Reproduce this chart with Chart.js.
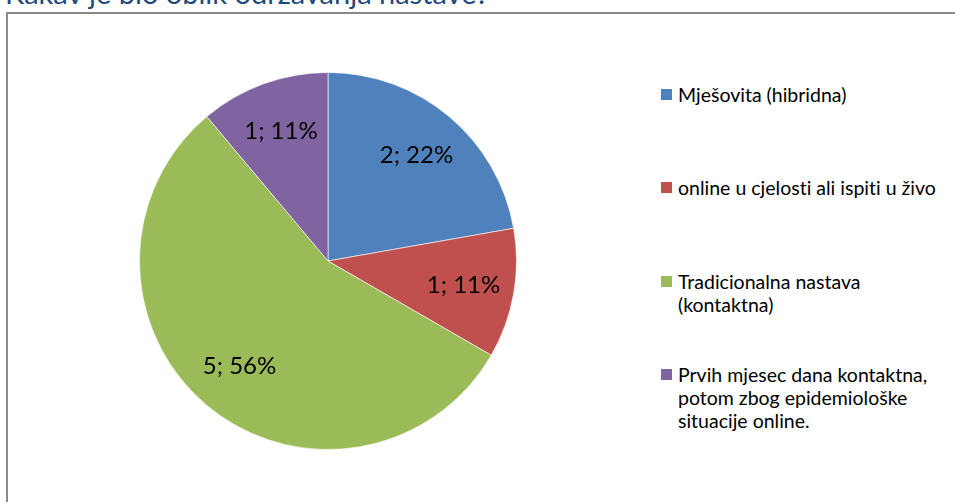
<!DOCTYPE html>
<html lang="hr">
  <head>
    <meta charset="UTF-8" />
    <title>Kakav je bio oblik održavanja nastave?</title>
    <style>
      html, body { margin: 0; padding: 0; background: #fff; }
      body { width: 955px; height: 502px; overflow: hidden; position: relative; font-family: Lato, "Open Sans", sans-serif; font-variant-ligatures: none; }
      .title { position: absolute; left: 5px; top: -27px; font-size: 29px; line-height: 40px; color: #1f497d; white-space: nowrap; }
      .frame { position: absolute; left: 6px; top: 12px; width: 1000px; height: 600px; border: 2px solid #8a8a8a; box-sizing: border-box; }
      .pie { position: absolute; left: 128px; top: 61px; width: 400px; height: 400px; }
      .legend { position: absolute; left: 661px; top: 0; }
      .legend .item { position: absolute; left: 0; width: 290px; font-size: 19.5px; line-height: 23px; color: #000; padding-left: 17px; white-space: nowrap; }
      .legend .box { position: absolute; left: 0; top: 6px; width: 11px; height: 11px; }
    </style>
  </head>
  <body>
    <div class="title">Kakav je bio oblik održavanja nastave?</div>
    <div class="frame"></div>
    <div class="pie"><canvas id="myPieChart"></canvas></div>
    <div class="legend" id="legend"></div>
    <script src="https://cdn.jsdelivr.net/npm/chart.js"></script>
    <script>
      var labels = [
        ["Mješovita (hibridna)"],
        ["online u cjelosti ali ispiti u živo"],
        ["Tradicionalna nastava", "(kontaktna)"],
        ["Prvih mjesec dana kontaktna,", "potom zbog epidemiološke", "situacije online."]
      ];
      var counts = [2, 1, 5, 1];
      var percents = ["22%", "11%", "56%", "11%"];
      var colors = ["#4f81bd", "#c0504d", "#9bbb59", "#8064a2"];

      // legend rows: top of each item
      var legendTops = [83, 176, 270, 363];
      var legend = document.getElementById("legend");
      labels.forEach(function (lines, i) {
        var item = document.createElement("div");
        item.className = "item";
        item.style.top = legendTops[i] + "px";
        var box = document.createElement("span");
        box.className = "box";
        box.style.background = colors[i];
        item.appendChild(box);
        lines.forEach(function (line, j) {
          if (j > 0) item.appendChild(document.createElement("br"));
          item.appendChild(document.createTextNode(line));
        });
        legend.appendChild(item);
      });

      // draws "n; p%" inside each slice
      var sliceLabels = {
        id: "sliceLabels",
        afterDatasetsDraw: function (chart) {
          var ctx = chart.ctx;
          var meta = chart.getDatasetMeta(0);
          ctx.save();
          ctx.font = "24px Lato, sans-serif";
          ctx.fillStyle = "#000";
          ctx.textAlign = "center";
          ctx.textBaseline = "middle";
          meta.data.forEach(function (arc, i) {
            var mid = (arc.startAngle + arc.endAngle) / 2;
            var r = arc.outerRadius * 0.73;
            ctx.fillText(counts[i] + "; " + percents[i], arc.x + Math.cos(mid) * r, arc.y + Math.sin(mid) * r);
          });
          ctx.restore();
        }
      };

      var ctx = document.getElementById("myPieChart");
      var myPieChart = new Chart(ctx, {
        type: "pie",
        data: {
          labels: labels.map(function (l) { return l.join(" "); }),
          datasets: [
            {
              data: counts,
              backgroundColor: colors,
              borderColor: "rgba(255,255,255,0.6)",
              borderWidth: 1
            }
          ]
        },
        options: {
          responsive: true,
          maintainAspectRatio: false,
          animation: false,
          layout: { padding: 11 },
          plugins: {
            legend: { display: false },
            tooltip: { enabled: false }
          }
        },
        plugins: [sliceLabels]
      });
    </script>
  </body>
</html>
